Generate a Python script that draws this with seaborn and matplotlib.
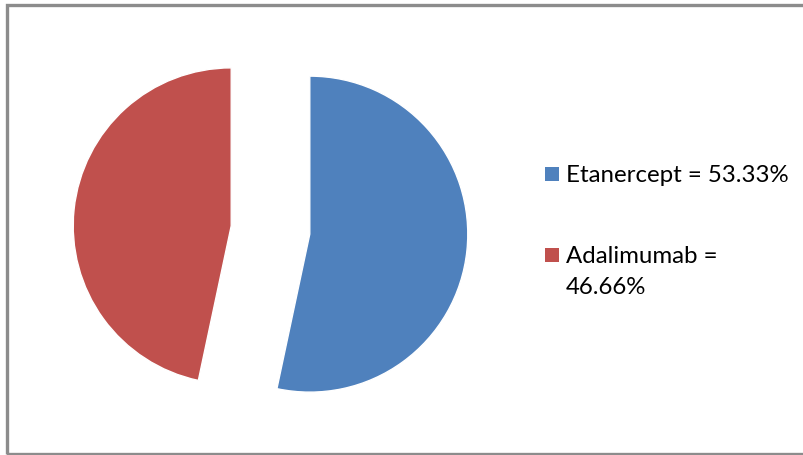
import numpy as np
import matplotlib
matplotlib.use("Agg")
import matplotlib.pyplot as plt
import matplotlib.patches as mpatches
import seaborn as sns

# data
drugs = ["Etanercept", "Adalimumab"]
shares = [53.33, 46.66]
labels = ["Etanercept = 53.33%", "Adalimumab =\n46.66%"]
explode = [0.25, 0.25]

sns.set_style("white")
plt.rcParams['font.family'] = ['Lato', 'DejaVu Sans']
palette = sns.color_palette(["#4F81BD", "#C0504D"])

W, H = 804, 456
fig = plt.figure(figsize=(W / 100, H / 100), dpi=100)

# pie axes: 1 data unit = 158 px, centre at (270.5, 231) px from top-left
r = 158.0
cx, cy = 270.5, 231.0
xl, yl = 1.5, 1.4
ax = fig.add_axes([(cx - xl * r) / W, (H - cy - yl * r) / H, 2 * xl * r / W, 2 * yl * r / H])

wedges, _ = ax.pie(shares, colors=palette, explode=explode, startangle=90,
                   counterclock=False, radius=1.0)
ax.set_xlim(-xl, xl)
ax.set_ylim(-yl, yl)
ax.set_aspect('auto')
ax.axis('off')

# legend drawn by hand: square key lined up with first text line
key_y = [175, 255.5]      # px from top, centre of key squares
base_y = [182, 263]       # baseline of first text line
line_step = 31
for i, lab in enumerate(labels):
    sq = 14
    fig.patches.append(mpatches.Rectangle(((551.5 - sq / 2) / W, 1 - (key_y[i] + sq / 2) / H),
                                          sq / W, sq / H, transform=fig.transFigure,
                                          facecolor=palette[i], edgecolor='none'))
    for k, line in enumerate(lab.split("\n")):
        fig.text(566 / W, 1 - (base_y[i] + k * line_step) / H, line, fontsize=17.3,
                 color='black', ha='left', va='baseline')

# outer chart frame (grey, open on the right)
frame = mpatches.Rectangle((7 / W, 1.5 / H), 1.05, 448.5 / H, transform=fig.transFigure,
                           fill=False, edgecolor='#8c8c8c', linewidth=2.4, clip_on=False)
fig.patches.append(frame)

fig.savefig("out.png", dpi=100)
